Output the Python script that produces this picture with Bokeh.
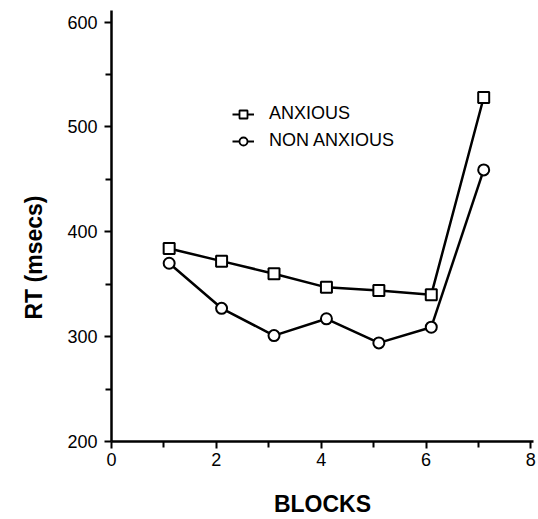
from bokeh.plotting import figure
from bokeh.models import Legend, LegendItem, FixedTicker, ColumnDataSource, Range1d, Title
from bokeh.embed import file_html
from bokeh.resources import INLINE

blocks = [1.1, 2.1, 3.1, 4.1, 5.1, 6.1, 7.1]
anxious = [384, 372, 360, 347, 344, 340, 528]
non_anxious = [370, 327, 301, 317, 294, 309, 459]
x_ticks = [0, 2, 4, 6, 8]
x_minor = [1, 3, 5, 7]
y_ticks = [200, 300, 400, 500, 600]
y_minor = [250, 350, 450, 550]

FONT = "Liberation Sans"

p = figure(width=538, height=519, output_backend="svg", toolbar_location=None,
           x_range=Range1d(0, 8.05), y_range=Range1d(200, 611),
           min_border_left=110, min_border_top=10, min_border_right=5, min_border_bottom=74)
p.outline_line_color = None
p.grid.visible = False
p.background_fill_color = "white"

src = ColumnDataSource(dict(x=blocks, a=anxious, n=non_anxious))
p.line("x", "a", source=src, line_color="black", line_width=2.5)
p.line("x", "n", source=src, line_color="black", line_width=2.5)
p.scatter("x", "a", source=src, marker="square", size=11, fill_color="white",
          line_color="black", line_width=2)
p.scatter("x", "n", source=src, marker="circle", size=11, fill_color="white",
          line_color="black", line_width=2)

# legend-only renderers (no visible data)
nan = float("nan")
dummy = ColumnDataSource(dict(x=[nan], y=[nan]))
la = p.line("x", "y", source=dummy, line_color="black", line_width=2)
sa = p.scatter("x", "y", source=dummy, marker="square", size=9, fill_color="white",
               line_color="black", line_width=1.8)
ln = p.line("x", "y", source=dummy, line_color="black", line_width=2)
sn = p.scatter("x", "y", source=dummy, marker="circle", size=9, fill_color="white",
               line_color="black", line_width=1.8)

legend = Legend(items=[LegendItem(label="ANXIOUS", renderers=[la, sa]),
                       LegendItem(label="NON ANXIOUS", renderers=[ln, sn])],
                location=(121, 290), padding=0, margin=0, spacing=6,
                glyph_width=22, glyph_height=20, label_standoff=15,
                label_text_font=FONT, label_text_font_size="18px",
                label_text_color="black", background_fill_alpha=0,
                border_line_color=None)
p.add_layout(legend, "center")

for ax in (p.xaxis[0], p.yaxis[0]):
    ax.axis_line_width = 2.5
    ax.axis_line_color = "black"
    ax.major_tick_line_width = 2
    ax.minor_tick_line_width = 2
    ax.major_tick_out = 7
    ax.major_tick_in = 0
    ax.minor_tick_out = 6
    ax.minor_tick_in = 0
    ax.major_label_text_font = FONT
    ax.major_label_text_font_size = "18px"
    ax.major_label_text_color = "black"

p.xaxis[0].ticker = FixedTicker(ticks=x_ticks, minor_ticks=x_minor)
p.yaxis[0].ticker = FixedTicker(ticks=y_ticks, minor_ticks=y_minor)
p.xaxis[0].axis_label = "BLOCKS"
p.xaxis[0].axis_label_text_font = FONT
p.xaxis[0].axis_label_text_font_size = "23px"
p.xaxis[0].axis_label_text_font_style = "bold"
p.xaxis[0].axis_label_text_color = "black"
p.xaxis[0].major_label_standoff = 4
p.yaxis[0].major_label_standoff = 7
p.xaxis[0].axis_label_standoff = 22

ytitle = Title(text="RT (msecs)", align="left", offset=122, standoff=36,
               text_font=FONT, text_font_size="23px", text_font_style="bold",
               text_color="black")
p.add_layout(ytitle, "left")

open("out.html", "w").write(file_html(p, INLINE))
